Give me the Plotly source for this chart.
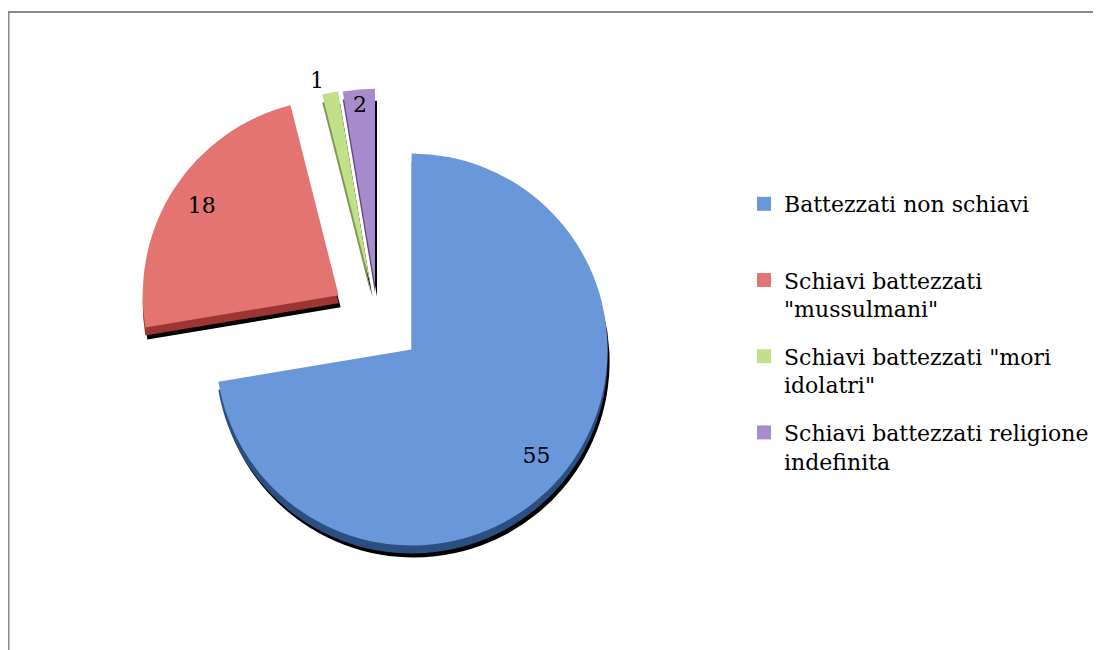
import plotly.graph_objects as go

# Data
categories = ["Battezzati non schiavi", "Schiavi battezzati \"mussulmani\"",
              "Schiavi battezzati \"mori idolatri\"", "Schiavi battezzati religione indefinita"]
legend_labels = ["Battezzati non schiavi<br> ", "Schiavi battezzati<br>\"mussulmani\"",
                 "Schiavi battezzati \"mori<br>idolatri\"", "Schiavi battezzati religione<br>indefinita"]
values = [55, 18, 1, 2]

# Style
colors = ["#6A97D9", "#E37472", "#C2E08A", "#A88BCC"]
dark_colors = ["#2C4F82", "#9E3533", "#7E9A4E", "#5E467F"]
pulls = [0.225, 0.24, 0.19, 0.186]
text_pos = ["inside", "inside", "outside", "inside"]

OFF = 8  # page body margin compensation
W, H = 1101 - OFF, 650 - OFF
cx, cy = 378 - OFF, 321 - OFF
half = 243

def dom(dx=0, dy=0):
    x0 = (cx - half + dx) / W
    x1 = (cx + half + dx) / W
    y0 = 1 - (cy + half + dy) / H
    y1 = 1 - (cy - half + dy) / H
    return dict(x=[x0, x1], y=[y0, y1])

fig = go.Figure()

common = dict(labels=categories, values=values, sort=False, direction="clockwise",
              rotation=0, pull=pulls, showlegend=False)

# black shadow
fig.add_trace(go.Pie(**common, domain=dom(2, 12), textinfo="none", hoverinfo="skip",
                     marker=dict(colors=["#000000"] * 4, line=dict(width=0))))
# thickness
fig.add_trace(go.Pie(**common, domain=dom(0, 8), textinfo="none", hoverinfo="skip",
                     marker=dict(colors=dark_colors, line=dict(width=0))))
# main pie
fig.add_trace(go.Pie(**common, domain=dom(0, 0), textinfo="none", hoverinfo="label+value",
                     marker=dict(colors=colors, line=dict(width=0))))
# value labels (text-only ring so labels sit near the outer edge)
fig.add_trace(go.Pie(**common, domain=dom(0, 0), hole=0.67,
                     textinfo="value", textposition=text_pos, insidetextorientation="horizontal",
                     textfont=dict(family="DejaVu Serif", size=22, color="#000000"),
                     hoverinfo="skip",
                     marker=dict(colors=["rgba(0,0,0,0)"] * 4, line=dict(width=0))))

# legend entries
for i, (lab, col) in enumerate(zip(legend_labels, colors)):
    fig.add_trace(go.Scatter(x=[None], y=[None], mode="markers", name=lab,
                             legendgroup=f"g{i}", showlegend=True, hoverinfo="skip",
                             marker=dict(symbol="square", size=14, color=col)))

fig.update_layout(
    width=W, height=H,
    margin=dict(l=0, r=0, t=0, b=0, autoexpand=False),
    paper_bgcolor="white", plot_bgcolor="white",
    xaxis=dict(visible=False), yaxis=dict(visible=False),
    font=dict(family="DejaVu Serif", size=22, color="#000000"),
    legend=dict(
        x=(744 - OFF) / W, xanchor="left", y=1 - (183 - OFF) / H, yanchor="top",
        traceorder="grouped", tracegroupgap=16, valign="top",
        font=dict(family="DejaVu Serif", size=22, color="#000000"),
        bgcolor="rgba(0,0,0,0)",
    ),
    shapes=[dict(type="rect", xref="paper", yref="paper",
                 x0=0.5 / W, x1=1.05, y0=-0.05, y1=1 - 4 / H,
                 line=dict(color="#8A8A8A", width=2), fillcolor="rgba(0,0,0,0)", layer="below")],
)

fig.write_html("out.html")
